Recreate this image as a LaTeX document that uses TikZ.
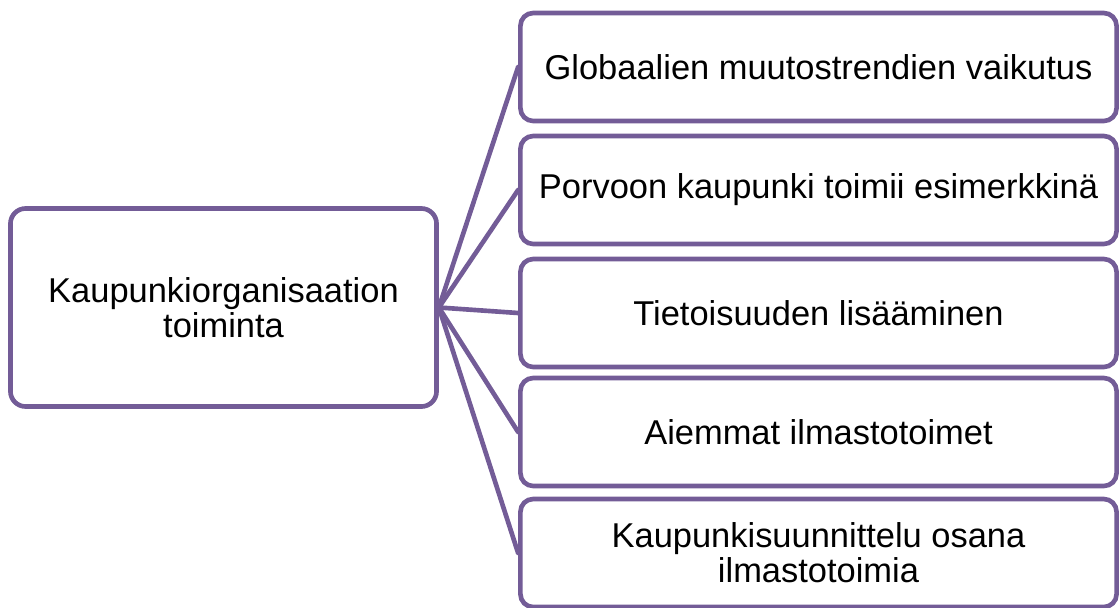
\documentclass[tikz,border=0pt]{standalone}
\usepackage{fontspec}
\setmainfont{Liberation Sans}
\usetikzlibrary{positioning}

\begin{document}
\begin{tikzpicture}[
    x=0.025cm, y=-0.025cm,
    every node/.style={font=\fontsize{24.5}{25}\selectfont},
    box/.style={draw=c1, line width=3.3pt, rounded corners=0.32cm, fill=white,
        align=center, inner sep=0pt},
    topic/.style={box, minimum width=14.9cm, minimum height=2.7cm},
    link/.style={draw=c1, line width=3.3pt},
]

\definecolor{c1}{HTML}{735C97}   % borders and links

\useasboundingbox (0,0) rectangle (1119,607);

% ---------------------------------------------------------------- hub
\node[box, minimum width=10.65cm, minimum height=4.95cm, rounded corners=0.38cm]
    (org) at (223.5, 307.5) {Kaupunkiorganisaation\\toiminta};

% ---------------------------------------------------------------- topics
\foreach \w/\r [count=\i] in {
    {Globaalien muutostrendien vaikutus}/67,
    {Porvoon kaupunki toimii esimerkkinä}/190,
    {Tietoisuuden lisääminen}/313,
    {Aiemmat ilmastotoimet}/432,
    {Kaupunkisuunnittelu osana\\ilmastotoimia}/553} {
    \node[topic] (t\i) at (818.5, \r) {\w};
}

% links from the hub out to each topic
\foreach \i in {1,...,5} {
    \draw[link, line cap=round] (org.east) -- (t\i.west);
}

\end{tikzpicture}
\end{document}
